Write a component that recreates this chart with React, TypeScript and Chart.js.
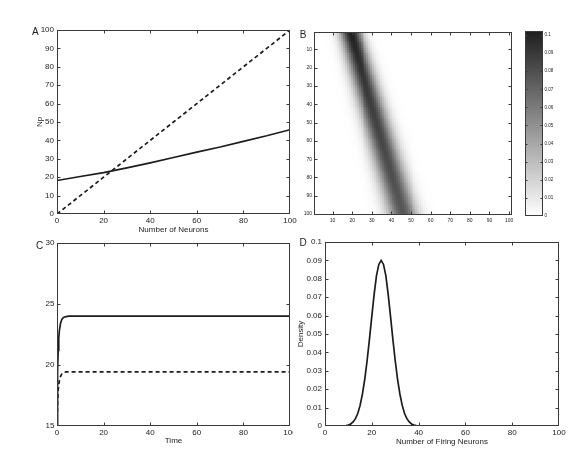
import React, { useEffect, useRef } from "react";
import { Chart, registerables } from "chart.js";
Chart.register(...registerables);

const FONT = "'Liberation Sans', Arial, Helvetica, sans-serif";
const INK = "#1c1c1c";
const FRAME = "#3a3a3a";
Chart.defaults.font.family = FONT;
Chart.defaults.color = "#222";

// ---------- Panel A ----------
const neuronsA = [0, 10, 20, 30, 40, 50, 60, 70, 80, 90, 100];
const npCurveA = [18.2, 20.4, 22.5, 25.1, 27.8, 30.7, 33.6, 36.4, 39.5, 42.5, 45.8];
const npLineA = [0, 10, 20, 30, 40, 50, 60, 70, 80, 90, 100];

// ---------- Panel B (heat map) ----------
const heatRowSamples = [1, 10, 20, 30, 40, 50, 60, 70, 80, 90, 100];
const heatCenters = [19.4, 21.8, 24.4, 27.1, 29.8, 32.5, 35.2, 37.9, 40.6, 43.3, 46.0];
const heatPeaks = [0.102, 0.098, 0.094, 0.091, 0.088, 0.086, 0.084, 0.082, 0.08, 0.078, 0.076];
const heatRowCount = 100;
const heatColCount = 101;
const heatTicksX = [10, 20, 30, 40, 50, 60, 70, 80, 90, 100];
const heatTicksY = [10, 20, 30, 40, 50, 60, 70, 80, 90, 100];
const colorbarTicks = [0, 0.01, 0.02, 0.03, 0.04, 0.05, 0.06, 0.07, 0.08, 0.09, 0.1];
const colorbarMax = 0.1022;

// ---------- Panel C ----------
const timeC = [0, 0.25, 0.5, 0.75, 1, 1.5, 2, 2.5, 3, 4, 5, 100];
const solidC = [15, 19.5, 21.2, 22.2, 22.8, 23.4, 23.7, 23.85, 23.92, 23.97, 24.0, 24.0];
const dashedC = [15, 17.0, 17.9, 18.4, 18.7, 19.05, 19.25, 19.35, 19.4, 19.43, 19.44, 19.44];

// ---------- Panel D ----------
const firingD = [0, 4, 7, 8, 9, 10, 11, 12, 13, 14, 15, 16, 17, 18, 19, 20, 21, 22, 23, 24, 25, 26, 27, 28, 29, 30, 31, 32, 33, 34, 35, 36, 37, 38, 39, 40, 41, 45, 60, 80, 100];
const densityD = [0, 0, 0, 0.0001, 0.0002, 0.0005, 0.0011, 0.0022, 0.004, 0.0068, 0.0112, 0.0174, 0.0255, 0.0356, 0.0472, 0.0596, 0.0715, 0.0817, 0.0878, 0.09, 0.0878, 0.0817, 0.0715, 0.0596, 0.0472, 0.0356, 0.0255, 0.0174, 0.0112, 0.0068, 0.004, 0.0022, 0.0011, 0.0005, 0.0002, 0.0001, 0, 0, 0, 0, 0];

type Box = { x: number; y: number; w: number; h: number };
type Area = { l: number; t: number; r: number; b: number };

const pts = (xs: number[], ys: number[]) => xs.map((x, i) => ({ x, y: ys[i] }));

function grayFor(v: number) {
  const g = Math.round(255 - 225 * Math.max(0, Math.min(1, v / colorbarMax)));
  return `rgb(${g},${g},${g})`;
}

function heatValue(row: number, col: number) {
  let k = 0;
  while (k < heatRowSamples.length - 2 && row > heatRowSamples[k + 1]) k++;
  const r0 = heatRowSamples[k], r1 = heatRowSamples[k + 1];
  const f = (row - r0) / (r1 - r0);
  const c = heatCenters[k] + f * (heatCenters[k + 1] - heatCenters[k]);
  const p = heatPeaks[k] + f * (heatPeaks[k + 1] - heatPeaks[k]);
  const s = 1 / (p * Math.sqrt(2 * Math.PI));
  return p * Math.exp(-((col - c) * (col - c)) / (2 * s * s));
}

const framePlugin = {
  id: "frame",
  afterDraw(chart: any, _a: any, opts: any) {
    const { ctx, chartArea: a } = chart;
    const len = opts.len ?? 3;
    const L = Math.round(a.left) + 0.5, R = Math.round(a.right) - 0.5;
    const T = Math.round(a.top) + 0.5, B = Math.round(a.bottom) - 0.5;
    ctx.save();
    ctx.strokeStyle = opts.color || FRAME;
    ctx.lineWidth = 1;
    ctx.strokeRect(L, T, R - L, B - T);
    ctx.beginPath();
    Object.values(chart.scales).forEach((s: any) => {
      if (!s.options.display) return;
      s.ticks.forEach((t: any) => {
        const p = Math.round(s.getPixelForValue(t.value)) + 0.5;
        if (s.isHorizontal()) {
          if (p < L + 1.5 || p > R - 1.5) return;
          ctx.moveTo(p, B); ctx.lineTo(p, B - len);
          ctx.moveTo(p, T); ctx.lineTo(p, T + len);
        } else {
          if (p < T + 1.5 || p > B - 1.5) return;
          ctx.moveTo(L, p); ctx.lineTo(L + len, p);
          ctx.moveTo(R, p); ctx.lineTo(R - len, p);
        }
      });
    });
    ctx.stroke();
    ctx.restore();
  },
};

const letterPlugin = {
  id: "letter",
  afterDraw(chart: any, _a: any, opts: any) {
    if (!opts || !opts.text) return;
    const { ctx } = chart;
    ctx.save();
    ctx.fillStyle = "#222";
    ctx.font = `10px ${FONT}`;
    ctx.textAlign = "center";
    ctx.textBaseline = "middle";
    ctx.fillText(opts.text, opts.x, opts.y);
    ctx.restore();
  },
};

const heatPlugin = {
  id: "heat",
  beforeDatasetsDraw(chart: any, _a: any, opts: any) {
    if (!opts || !opts.on) return;
    const { ctx, chartArea: a, scales } = chart;
    const xs = scales.x, ys = scales.y;
    ctx.save();
    ctx.beginPath();
    ctx.rect(a.left, a.top, a.right - a.left, a.bottom - a.top);
    ctx.clip();
    for (let r = 1; r <= heatRowCount; r++) {
      const y0 = ys.getPixelForValue(r - 0.5), y1 = ys.getPixelForValue(r + 0.5);
      const top = Math.floor(Math.min(y0, y1)), bot = Math.ceil(Math.max(y0, y1));
      for (let c = 1; c <= heatColCount; c++) {
        const v = heatValue(r, c);
        if (v < 0.0002) continue;
        const x0 = xs.getPixelForValue(c - 0.5), x1 = xs.getPixelForValue(c + 0.5);
        ctx.fillStyle = grayFor(v);
        ctx.fillRect(Math.floor(x0), top, Math.ceil(x1) - Math.floor(x0), bot - top);
      }
    }
    ctx.restore();
  },
};

const colorbarPlugin = {
  id: "cbar",
  beforeDatasetsDraw(chart: any, _a: any, opts: any) {
    if (!opts || !opts.on) return;
    const { ctx, chartArea: a, scales } = chart;
    ctx.save();
    for (let py = Math.round(a.top); py < Math.round(a.bottom); py++) {
      const v = scales.y.getValueForPixel(py + 0.5);
      ctx.fillStyle = grayFor(v);
      ctx.fillRect(a.left, py, a.right - a.left, 1);
    }
    ctx.restore();
  },
};

function fmt(v: any) {
  return String(Math.round(Number(v) * 100) / 100);
}

function baseOptions(box: Box, area: Area, yRight = false, xShown = true): any {
  return {
    responsive: false,
    animation: false,
    events: [],
    layout: {
      autoPadding: false,
      padding: {
        top: area.t - box.y,
        right: yRight ? 0 : box.x + box.w - area.r,
        left: yRight ? area.l - box.x : 0,
        bottom: xShown ? 0 : box.y + box.h - area.b,
      },
    },
    plugins: { legend: { display: false }, tooltip: { enabled: false } },
  };
}

function xAxis(box: Box, area: Area, extra: any) {
  return {
    type: "linear",
    position: "bottom",
    grid: { display: false, drawTicks: false },
    border: { display: false },
    afterFit: (s: any) => { s.height = box.y + box.h - area.b; },
    ...extra,
    ticks: { maxRotation: 0, autoSkip: false, ...(extra.ticks || {}) },
  };
}

function yAxis(box: Box, area: Area, extra: any, right = false) {
  return {
    type: "linear",
    position: right ? "right" : "left",
    grid: { display: false, drawTicks: false },
    border: { display: false },
    afterFit: (s: any) => { s.width = right ? box.x + box.w - area.r : area.l - box.x; },
    ...extra,
    ticks: { autoSkip: false, ...(extra.ticks || {}) },
  };
}

const lineDs = (data: any[], dashed: boolean) => ({
  data,
  showLine: true,
  borderColor: INK,
  borderWidth: 1.7,
  borderDash: dashed ? [4, 3] : [],
  pointRadius: 0,
  tension: 0,
  fill: false,
});

// ---------- configs ----------
const boxA: Box = { x: 20, y: 15, w: 280, h: 225 };
const areaA: Area = { l: 57, t: 30, r: 290, b: 214 };
function configA(): any {
  const o = baseOptions(boxA, areaA);
  o.plugins.letter = { text: "A", x: 35.3 - boxA.x, y: 32.5 - boxA.y };
  o.scales = {
    x: xAxis(boxA, areaA, {
      min: 0, max: 100,
      ticks: { stepSize: 20, padding: 2, font: { size: 8 } },
      title: { display: true, text: "Number of Neurons", font: { size: 8 }, padding: { top: 0, bottom: 5.2 } },
    }),
    y: yAxis(boxA, areaA, {
      min: 0, max: 100,
      ticks: { stepSize: 10, padding: 3, font: { size: 8 } },
      title: { display: true, text: "Np", font: { size: 8 }, padding: { top: 15.2, bottom: 0 } },
    }),
  };
  return {
    type: "scatter",
    data: { datasets: [lineDs(pts(neuronsA, npLineA), true), lineDs(pts(neuronsA, npCurveA), false)] },
    options: o,
    plugins: [framePlugin, letterPlugin],
  };
}

const boxB: Box = { x: 295, y: 15, w: 225, h: 220 };
const areaB: Area = { l: 314, t: 32, r: 512, b: 215 };
function configB(): any {
  const o = baseOptions(boxB, areaB);
  o.plugins.letter = { text: "B", x: 303.2 - boxB.x, y: 35.3 - boxB.y };
  o.plugins.heat = { on: true };
  o.scales = {
    x: xAxis(boxB, areaB, {
      min: 0.5, max: 101.5,
      afterBuildTicks: (s: any) => { s.ticks = heatTicksX.map((v) => ({ value: v })); },
      ticks: { padding: 3, font: { size: 5 } },
    }),
    y: yAxis(boxB, areaB, {
      min: 0.5, max: 100.5, reverse: true,
      afterBuildTicks: (s: any) => { s.ticks = heatTicksY.map((v) => ({ value: v })); },
      ticks: { padding: 2, font: { size: 5 } },
    }),
  };
  return { type: "scatter", data: { datasets: [] }, options: o, plugins: [heatPlugin, framePlugin, letterPlugin] };
}

const boxCB: Box = { x: 520, y: 15, w: 68, h: 220 };
const areaCB: Area = { l: 525, t: 31, r: 543, b: 216 };
function configCB(): any {
  const o = baseOptions(boxCB, areaCB, true, false);
  o.plugins.cbar = { on: true };
  o.plugins.frame = { len: 2 };
  o.scales = {
    x: { type: "linear", display: false, min: 0, max: 1 },
    y: yAxis(boxCB, areaCB, {
      min: 0, max: colorbarMax,
      afterBuildTicks: (s: any) => { s.ticks = colorbarTicks.map((v) => ({ value: v })); },
      ticks: { padding: 1.5, font: { size: 4.5 }, callback: (v: any) => fmt(v) },
    }, true),
  };
  return { type: "scatter", data: { datasets: [] }, options: o, plugins: [colorbarPlugin, framePlugin] };
}

const boxC: Box = { x: 20, y: 232, w: 282, h: 220 };
const areaC: Area = { l: 57, t: 243, r: 290, b: 426 };
const clipC = 273;
function configC(): any {
  const o = baseOptions(boxC, areaC);
  o.plugins.letter = { text: "C", x: 39.7 - boxC.x, y: 246.5 - boxC.y };
  o.scales = {
    x: xAxis(boxC, areaC, {
      min: 0, max: 100,
      ticks: { stepSize: 20, padding: 2, font: { size: 8 } },
      title: { display: true, text: "Time", font: { size: 8 }, padding: { top: 0, bottom: 6.2 } },
    }),
    y: yAxis(boxC, areaC, {
      min: 15, max: 30,
      ticks: { stepSize: 5, padding: 2.5, font: { size: 8 } },
    }),
  };
  return {
    type: "scatter",
    data: { datasets: [lineDs(pts(timeC, solidC), false), lineDs(pts(timeC, dashedC), true)] },
    options: o,
    plugins: [framePlugin, letterPlugin],
  };
}

const boxD: Box = { x: 288, y: 232, w: 300, h: 220 };
const areaD: Area = { l: 325, t: 242, r: 559, b: 426 };
function configD(): any {
  const o = baseOptions(boxD, areaD);
  o.plugins.letter = { text: "D", x: 303.2 - boxD.x, y: 243.5 - boxD.y };
  o.scales = {
    x: xAxis(boxD, areaD, {
      min: 0, max: 100,
      ticks: { stepSize: 20, padding: 2, font: { size: 8 } },
      title: { display: true, text: "Number of Firing Neurons", font: { size: 8 }, padding: { top: 0, bottom: 5.5 } },
    }),
    y: yAxis(boxD, areaD, {
      min: 0, max: 0.1,
      ticks: { stepSize: 0.01, padding: 3, font: { size: 8 }, callback: (v: any) => fmt(v) },
      title: { display: true, text: "Density", font: { size: 8 }, padding: { top: 7.9, bottom: 0 } },
    }),
  };
  return {
    type: "scatter",
    data: { datasets: [lineDs(pts(firingD, densityD), false)] },
    options: o,
    plugins: [framePlugin, letterPlugin],
  };
}

function Panel({ box, make, clipW }: { box: Box; make: () => any; clipW?: number }) {
  const ref = useRef<HTMLCanvasElement>(null);
  useEffect(() => {
    const chart = new Chart(ref.current as HTMLCanvasElement, make());
    return () => chart.destroy();
  }, []);
  return (
    <div
      style={{
        position: "absolute",
        left: box.x,
        top: box.y,
        width: clipW ?? box.w,
        height: box.h,
        overflow: "hidden",
      }}
    >
      <canvas
        ref={ref}
        width={box.w}
        height={box.h}
        style={{ position: "absolute", left: 0, top: 0, width: box.w, height: box.h }}
      />
    </div>
  );
}

export default function App() {
  return (
    <div style={{ position: "fixed", left: 0, top: 0, width: 588, height: 452, background: "#fff", overflow: "hidden" }}>
      <Panel box={boxA} make={configA} />
      <Panel box={boxB} make={configB} />
      <Panel box={boxCB} make={configCB} />
      <Panel box={boxC} make={configC} clipW={clipC} />
      <Panel box={boxD} make={configD} />
    </div>
  );
}
